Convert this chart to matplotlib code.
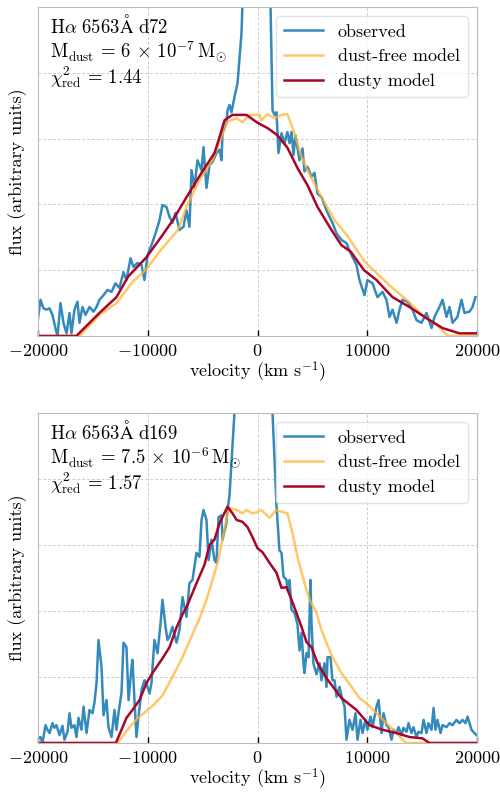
import numpy as np
import matplotlib
matplotlib.use("Agg")
import matplotlib.pyplot as plt

plt.rcParams.update({
    "font.family": "serif",
    "font.serif": ["cmr10"],
    "mathtext.fontset": "cm",
    "axes.formatter.use_mathtext": True,
    "font.size": 13,
})

# (velocity [km/s], flux [arb.])
d72_observed = [
    (-20000, 0.27), (-19770, 0.55), (-19500, 0.42), (-19230, 0.40), (-18950, 0.42),
    (-18680, 0.32), (-18410, 0.12), (-18220, 0.0), (-17950, 0.50), (-17680, 0.20),
    (-17400, 0.04), (-17130, 0.35), (-16950, 0.04), (-16680, 0.40), (-16400, 0.52),
    (-16220, 0.20), (-15950, 0.44), (-15670, 0.32), (-15310, 0.44), (-14940, 0.37),
    (-14670, 0.44), (-14400, 0.55), (-14030, 0.62), (-13670, 0.70), (-13300, 0.67),
    (-12940, 0.80), (-12580, 0.73), (-12210, 0.97), (-11940, 0.85), (-11570, 1.18),
    (-11300, 1.05), (-10930, 1.11), (-10570, 1.08), (-10300, 0.85), (-10020, 1.23),
    (-9660, 1.38), (-9290, 1.56), (-8930, 1.76), (-8660, 1.99), (-8290, 1.96),
    (-8020, 1.81), (-7750, 1.72), (-7470, 1.87), (-7110, 1.61), (-6740, 1.66),
    (-6470, 1.91), (-6200, 1.66), (-6010, 2.52), (-5740, 2.26), (-5470, 2.67),
    (-5100, 2.52), (-4920, 2.87), (-4650, 2.25), (-4370, 2.60), (-4100, 2.64),
    (-3740, 2.78), (-3460, 2.83), (-3280, 2.67), (-3190, 3.08), (-2830, 3.24),
    (-2730, 3.43), (-2550, 3.51), (-2370, 3.40), (-2100, 3.63), (-1820, 3.84),
    (-1460, 4.60), (-1370, 5.00), (-800, 9.0), (0, 14.0), (700, 9.0),
    (1190, 5.0), (1370, 3.43), (1550, 3.36), (1730, 3.40), (1910, 2.78),
    (2190, 3.08), (2460, 2.93), (2730, 3.10), (2920, 2.93), (3100, 3.10),
    (3280, 2.75), (3460, 3.05), (3830, 2.67), (4100, 2.85), (4280, 2.50),
    (4560, 2.57), (4920, 2.42), (5190, 2.48), (5470, 2.16), (5830, 2.11),
    (6290, 1.91), (6560, 1.81), (6830, 1.72), (7200, 1.56), (7650, 1.46),
    (8110, 1.41), (8380, 1.30), (8650, 1.20), (9020, 1.08), (9290, 0.85),
    (9750, 0.62), (10020, 0.85), (10480, 0.80), (10930, 0.59), (11390, 0.67),
    (11750, 0.55), (12030, 0.29), (12300, 0.40), (12670, 0.20), (12940, 0.40),
    (13210, 0.55), (13670, 0.52), (14120, 0.40), (14490, 0.24), (14940, 0.20),
    (15400, 0.35), (15860, 0.12), (16130, 0.29), (16580, 0.44), (16860, 0.55),
    (17220, 0.29), (17500, 0.44), (17770, 0.20), (18220, 0.29), (18590, 0.55),
    (18860, 0.35), (19320, 0.37), (19590, 0.44), (19860, 0.59),
]
d72_dustfree = [
    (-20000, 0), (-16200, 0), (-14400, 0.32), (-12850, 0.50), (-11400, 0.82),
    (-10200, 1.00), (-8800, 1.31), (-7250, 1.61), (-6470, 1.96), (-5290, 2.37),
    (-4100, 2.67), (-3280, 3.02), (-2830, 3.25), (-1910, 3.31), (-1370, 3.25),
    (-730, 3.36), (180, 3.36), (360, 3.28), (910, 3.37), (1550, 3.31),
    (2190, 3.36), (2730, 3.37), (3370, 3.08), (4010, 2.72), (4560, 2.52),
    (5830, 2.11), (7020, 1.76), (8200, 1.52), (9750, 1.13), (11390, 0.87),
    (12300, 0.73), (13580, 0.55), (15030, 0.32), (16310, 0.17), (17220, 0.02),
    (17500, 0), (20000, 0),
]
d72_dusty = [
    (-20000, 0), (-16500, 0), (-14400, 0.35), (-12850, 0.59), (-11800, 0.90),
    (-10100, 1.20), (-8800, 1.50), (-7750, 1.75), (-6500, 2.10), (-5100, 2.48),
    (-3920, 2.78), (-3460, 3.02), (-3000, 3.28), (-2280, 3.36), (-1000, 3.36),
    (0, 3.24), (910, 3.16), (1820, 3.05), (2730, 2.86), (3650, 2.55),
    (4560, 2.29), (5470, 1.96), (6740, 1.61), (7650, 1.38), (8500, 1.28),
    (9700, 1.00), (10840, 0.85), (12300, 0.59), (13850, 0.44), (15400, 0.27),
    (16860, 0.12), (18400, 0.04), (20000, 0.04),
]

d169_observed = [
    (-20000, 0.07), (-19770, 0.09), (-19590, 0.0), (-19320, 0.27), (-19140, 0.20),
    (-18950, 0.15), (-18680, 0.30), (-18500, 0.23), (-18320, 0.27), (-18040, 0.12),
    (-17770, 0.26), (-17590, 0.05), (-17310, 0.17), (-17130, 0.45), (-16950, 0.23),
    (-16680, 0.27), (-16490, 0.09), (-16310, 0.38), (-16040, 0.20), (-15850, 0.55),
    (-15580, 0.15), (-15310, 0.50), (-15030, 0.45), (-14850, 0.62), (-14670, 0.90),
    (-14490, 1.56), (-14210, 1.15), (-14030, 0.42), (-13760, 0.65), (-13580, 0.24),
    (-13300, 0.09), (-13030, 0.50), (-12850, 0.20), (-12670, 0.45), (-12390, 0.76),
    (-12210, 1.52), (-11940, 1.45), (-11750, 0.65), (-11480, 1.15), (-11390, 1.26),
    (-11210, 0.65), (-11030, 0.09), (-10840, 0.40), (-10570, 0.80), (-10300, 0.95),
    (-10020, 0.85), (-9840, 0.75), (-9660, 0.91), (-9390, 1.56), (-9110, 1.36),
    (-8840, 1.80), (-8660, 2.17), (-8380, 1.76), (-8200, 1.56), (-8020, 1.61),
    (-7750, 1.76), (-7380, 1.52), (-7110, 1.71), (-6830, 2.21), (-6470, 1.91),
    (-6200, 2.42), (-5920, 2.47), (-5560, 2.88), (-5290, 2.82), (-5100, 3.38),
    (-4920, 3.53), (-4650, 3.38), (-4460, 2.77), (-4190, 3.08), (-3920, 2.77),
    (-3740, 2.73), (-3550, 3.42), (-3280, 3.45), (-3190, 3.08), (-2830, 3.33),
    (-2730, 3.53), (-2550, 3.75), (-2100, 5.0), (-1000, 10.0), (0, 14.0),
    (800, 10.0), (1370, 5.0), (1730, 3.60), (2000, 2.92), (2190, 2.88),
    (2370, 2.52), (2640, 2.47), (2730, 2.32), (2920, 2.47), (3100, 2.02),
    (3370, 1.97), (3640, 1.80), (3830, 1.40), (4010, 1.67), (4190, 1.21),
    (4280, 1.06), (4460, 1.36), (4650, 1.30), (4830, 2.47), (4920, 1.82),
    (5100, 1.20), (5380, 1.04), (5650, 1.21), (5830, 0.95), (6100, 1.21),
    (6290, 0.85), (6380, 1.30), (6650, 1.30), (6830, 0.95), (7020, 0.95),
    (7200, 0.70), (7470, 0.85), (7750, 0.65), (7930, 0.55), (8110, 0.05),
    (8380, 0.35), (8660, 0.20), (8930, 0.45), (9110, 0.05), (9390, 0.35),
    (9570, 0.15), (9840, 0.35), (10020, 0.20), (10300, 0.40), (10480, 0.24),
    (10840, 0.55), (11030, 0.65), (11300, 0.15), (11480, 0.45), (11750, 0.27),
    (11940, 0.24), (12210, 0.05), (12390, 0.20), (12670, 0.15), (12850, 0.24),
    (13120, 0.12), (13300, 0.23), (13580, 0.17), (13760, 0.30), (14030, 0.15),
    (14210, 0.24), (14490, 0.09), (14670, 0.17), (14940, 0.15), (15130, 0.35),
    (15400, 0.15), (15580, 0.30), (15860, 0.20), (16040, 0.53), (16220, 0.20),
    (16400, 0.35), (16680, 0.15), (16860, 0.27), (17220, 0.24), (17500, 0.30),
    (17770, 0.27), (18130, 0.35), (18410, 0.30), (18680, 0.35), (18950, 0.30),
    (19140, 0.40), (19500, 0.20), (19770, 0.15), (19950, 0.12),
]
d169_dustfree = [
    (-20000, 0), (-12750, 0), (-11660, 0.24), (-10750, 0.40), (-9570, 0.56),
    (-8660, 0.72), (-7750, 1.00), (-6830, 1.30), (-5920, 1.65), (-5290, 1.88),
    (-4650, 2.17), (-4100, 2.47), (-3640, 2.73), (-3190, 3.08), (-2730, 3.48),
    (-2550, 3.56), (-1910, 3.53), (-1370, 3.48), (-1000, 3.53), (-460, 3.48),
    (0, 3.50), (360, 3.53), (1090, 3.41), (1730, 3.53), (2280, 3.50),
    (2730, 3.48), (3190, 3.18), (3640, 2.82), (4280, 2.42), (4740, 2.17),
    (5380, 1.97), (5830, 1.71), (6380, 1.48), (6830, 1.30), (7650, 1.06),
    (8570, 0.85), (9290, 0.68), (9930, 0.60), (10840, 0.45), (11750, 0.30),
    (12670, 0.15), (13210, 0.05), (13580, 0), (20000, 0),
]
d169_dusty = [
    (-20000, 0), (-12900, 0), (-12390, 0.20), (-11940, 0.38), (-11390, 0.50),
    (-10750, 0.65), (-10110, 0.91), (-9570, 1.06), (-9200, 1.15), (-8660, 1.28),
    (-8020, 1.45), (-7380, 1.75), (-6830, 1.95), (-6380, 2.09), (-5560, 2.42),
    (-4830, 2.70), (-4370, 3.00), (-3920, 3.08), (-3460, 3.33), (-2730, 3.58),
    (-2280, 3.48), (-1910, 3.38), (-1370, 3.35), (-910, 3.27), (-460, 3.12),
    (0, 2.95), (460, 2.89), (1090, 2.73), (1730, 2.58), (2190, 2.35),
    (2640, 2.36), (3100, 2.17), (3550, 1.97), (4010, 1.76), (4460, 1.53),
    (4920, 1.45), (5470, 1.21), (6290, 0.98), (7110, 0.80), (7650, 0.68),
    (8110, 0.62), (9020, 0.50), (10210, 0.27), (11390, 0.20), (12670, 0.15),
    (13850, 0.09), (15030, 0.07), (15670, 0), (20000, 0),
]

panels = [
    (d72_observed, d72_dustfree, d72_dusty,
     [r"$\mathrm{H}\alpha\ 6563\mathrm{\AA}\ \mathrm{d72}$",
      r"$\mathrm{M_{dust}}\,=\,6\,\times\,10^{-7}\,\mathrm{M_{\odot}}$",
      r"$\chi^2_{\mathrm{red}}\,=\,1.44$"]),
    (d169_observed, d169_dustfree, d169_dusty,
     [r"$\mathrm{H}\alpha\ 6563\mathrm{\AA}\ \mathrm{d169}$",
      r"$\mathrm{M_{dust}}\,=\,7.5\,\times\,10^{-6}\,\mathrm{M_{\odot}}$",
      r"$\chi^2_{\mathrm{red}}\,=\,1.57$"]),
]

fig = plt.figure(figsize=(5, 7.92), dpi=100)
rects = [[0.076, 0.5758, 0.878, 0.4154], [0.076, 0.0619, 0.878, 0.4167]]

for rect, (obs, free, dusty, lines) in zip(rects, panels):
    ax = fig.add_axes(rect)
    v, f = np.array(obs).T
    ax.plot(v, f, color="#348ABD", lw=1.8, label="observed")
    v, f = np.array(free).T
    ax.plot(v, f, color="#FFB532", alpha=0.75, lw=1.8, label="dust-free model")
    v, f = np.array(dusty).T
    ax.plot(v, f, color="#A60628", lw=1.8, label="dusty model")

    ax.set_xlim(-20000, 20000)
    ax.set_ylim(0, 5)
    ax.set_xticks([-20000, -10000, 0, 10000, 20000])
    ax.set_yticks([1, 2, 3, 4])
    ax.tick_params(axis="x", direction="in", length=4, width=1, pad=5)
    ax.tick_params(axis="y", left=False, labelleft=False)
    ax.grid(True, ls=(0, (3, 2)), color="#cccccc", lw=0.7)
    for s in ax.spines.values():
        s.set_color("#bcbcbc")

    for y, t in zip([0.921, 0.845, 0.769], lines):
        ax.text(0.027, y, t, transform=ax.transAxes, va="baseline", ha="left",
                fontsize=13.5)

    ax.legend(loc="upper right", framealpha=0.8, edgecolor="#dddddd",
              borderpad=0.45, labelspacing=0.5, handlelength=2.2)
    ax.set_xlabel(r"velocity (km s$^{-1}$)", labelpad=0.5)
    ax.set_ylabel("flux (arbitrary units)", labelpad=8)

fig.savefig("out.png", dpi=100)
